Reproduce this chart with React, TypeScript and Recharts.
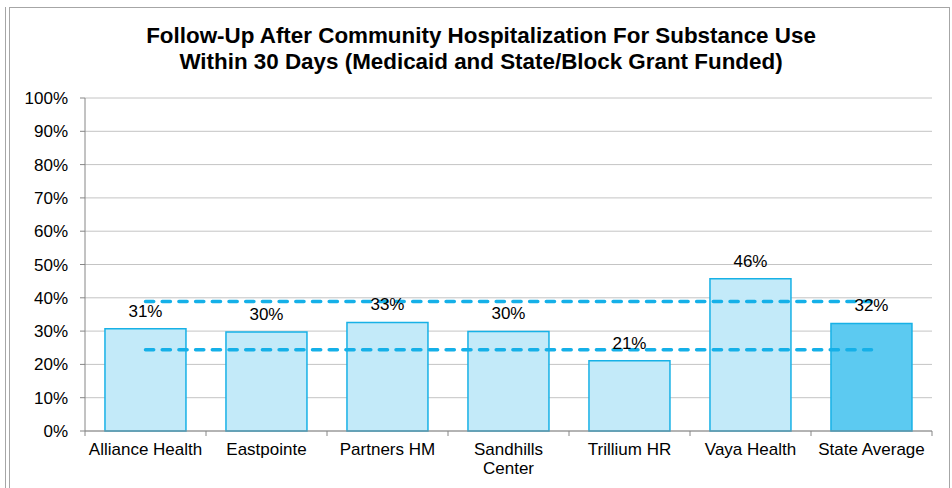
import { ComposedChart, Bar, Line, Cell, XAxis, YAxis, CartesianGrid, LabelList } from 'recharts'

const categories = ['Alliance Health', 'Eastpointe', 'Partners HM', 'Sandhills Center', 'Trillium HR', 'Vaya Health', 'State Average']
const followUp = [30.7, 29.7, 32.6, 29.9, 21.1, 45.7, 32.3]
const upperBand = [38.9, 38.9, 38.9, 38.9, 38.9, 38.9, 38.9]
const lowerBand = [24.4, 24.4, 24.4, 24.4, 24.4, 24.4, 24.4]
const yTicks = [0, 10, 20, 30, 40, 50, 60, 70, 80, 90, 100]

const data = categories.map((name, i) => ({
  name,
  value: followUp[i],
  upper: upperBand[i],
  lower: lowerBand[i],
}))

const FONT = '"Liberation Sans", Arial, sans-serif'
const FS = 17
const AXIS = '#868686'
const W = 952
const H = 488
const M = { top: 98, right: 20, bottom: 7, left: 0 }
const Y_AXIS_W = 85
const BAND = (W - M.right - M.left - Y_AXIS_W) / categories.length
const WRAP_AT = 15 // longer names break onto two lines, like Excel did

const CategoryTick = ({ x, y, payload, index }: any) => {
  const label = String(payload.value)
  const lines = label.length > WRAP_AT ? label.split(' ') : [label]
  return (
    <g>
      <line x1={x - BAND / 2} x2={x - BAND / 2} y1={y} y2={y + 5} stroke={AXIS} />
      {index === categories.length - 1 && (
        <line x1={x + BAND / 2} x2={x + BAND / 2} y1={y} y2={y + 5} stroke={AXIS} />
      )}
      <text x={x} y={y + 24} textAnchor="middle" fill="#000" fontSize={FS} fontFamily={FONT}>
        {lines.map((t, i) => (
          <tspan key={i} x={x} dy={i === 0 ? 0 : 19}>{t}</tspan>
        ))}
      </text>
    </g>
  )
}

export default function App() {
  return (
    <div style={{ position: 'absolute', left: 0, top: 0, width: W, height: H, background: '#fff', overflow: 'hidden', fontFamily: FONT }}>
      {/* frame */}
      <div style={{ position: 'absolute', left: 5, top: 7, width: 0, height: H, borderLeft: '1.5px solid #a6a6a6' }} />
      <div style={{ position: 'absolute', left: 9, top: 7, width: 939, height: H, borderLeft: '1.5px solid #a6a6a6', borderTop: '1.5px solid #a6a6a6', borderRight: '1.5px solid #a6a6a6' }} />

      <div style={{ position: 'absolute', left: 0, top: 0 }}>
        <ComposedChart width={W} height={H} data={data} margin={M} barCategoryGap="16.5%">
          <CartesianGrid vertical={false} stroke="#c4c4c4" />
          <XAxis
            dataKey="name"
            interval={0}
            height={50}
            axisLine={{ stroke: AXIS }}
            tickLine={false}
            tickSize={0}
            tickMargin={0}
            tick={<CategoryTick />}
          />
          <YAxis
            width={Y_AXIS_W}
            domain={[0, 100]}
            ticks={yTicks}
            interval={0}
            tickFormatter={(v: number) => `${v}%`}
            axisLine={{ stroke: AXIS }}
            tickLine={{ stroke: AXIS }}
            tickSize={5}
            tickMargin={12}
            tick={{ fill: '#000', fontSize: FS, fontFamily: FONT }}
          />
          <Bar dataKey="value" stroke="#17b1e6" strokeWidth={1.5} isAnimationActive={false}>
            {data.map((d) => (
              <Cell key={d.name} fill={d.name === 'State Average' ? '#5ccaf1' : '#c3eaf9'} />
            ))}
            <LabelList
              dataKey="value"
              position="top"
              offset={12}
              formatter={(v: any) => `${Math.round(v)}%`}
              style={{ fill: '#000', fontSize: FS, fontFamily: FONT }}
            />
          </Bar>
          <Line dataKey="upper" stroke="#15b0e8" strokeWidth={3.5} strokeDasharray="8.2 8.5" strokeLinecap="round" dot={false} activeDot={false} isAnimationActive={false} />
          <Line dataKey="lower" stroke="#15b0e8" strokeWidth={3.5} strokeDasharray="8.2 8.5" strokeLinecap="round" dot={false} activeDot={false} isAnimationActive={false} />
        </ComposedChart>
      </div>

      <div style={{ position: 'absolute', left: 5, top: 23, width: W, textAlign: 'center', fontSize: 22.4, fontWeight: 'bold', lineHeight: '26px', color: '#000' }}>
        <div>Follow-Up After Community Hospitalization For Substance Use</div>
        <div>Within 30 Days (Medicaid and State/Block Grant Funded)</div>
      </div>
    </div>
  )
}
